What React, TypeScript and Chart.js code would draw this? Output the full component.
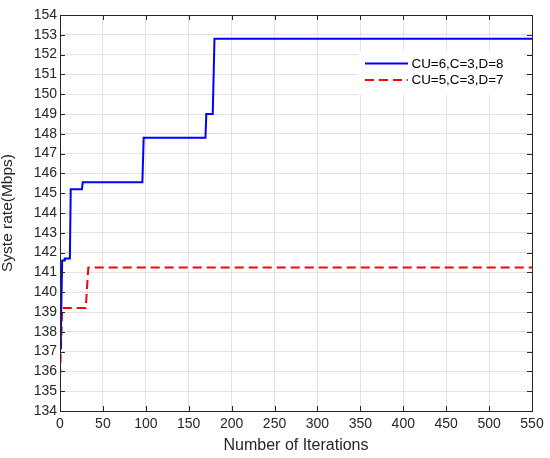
import React, { useEffect, useRef } from "react";
import { Chart, registerables } from "chart.js";

Chart.register(...registerables);

// Series 1: CU=6,C=3,D=8 (blue, solid)
const blueIter = [0, 1, 2.5, 5, 5.5, 11.5, 12.5, 25.5, 26.5, 96, 97.5, 169.5, 170.5, 178, 180, 550];
const blueRate = [137.2, 138.0, 141.6, 141.6, 141.7, 141.7, 145.2, 145.2, 145.55, 145.55, 147.8, 147.8, 149.0, 149.0, 152.8, 152.8];

// Series 2: CU=5,C=3,D=7 (red, dashed)
const redIter = [0, 2.5, 30, 33, 550];
const redRate = [135.7, 139.2, 139.2, 141.25, 141.25];

const seriesLabels = ["CU=6,C=3,D=8", "CU=5,C=3,D=7"];
const xTitle = "Number of Iterations";
const yTitle = "Syste rate(Mbps)";
const xMin = 0, xMax = 550, xStep = 50;
const yMin = 134, yMax = 154, yStep = 1;

const AXIS = "#262626";
const FONT = "'Liberation Sans', Arial, Helvetica, sans-serif";

const framePlugin = {
  id: "frameTicks",
  afterDatasetsDraw(chart: any) {
    const { ctx, chartArea: a, scales } = chart;
    const L = 5;
    ctx.save();
    ctx.strokeStyle = AXIS;
    ctx.lineWidth = 1;
    ctx.beginPath();
    for (const t of scales.x.ticks) {
      const px = Math.round(scales.x.getPixelForValue(t.value)) + 0.5;
      ctx.moveTo(px, a.bottom);
      ctx.lineTo(px, a.bottom - L);
      ctx.moveTo(px, a.top);
      ctx.lineTo(px, a.top + L);
    }
    for (const t of scales.y.ticks) {
      const py = Math.round(scales.y.getPixelForValue(t.value)) + 0.5;
      ctx.moveTo(a.left, py);
      ctx.lineTo(a.left + L, py);
      ctx.moveTo(a.right, py);
      ctx.lineTo(a.right - L, py);
    }
    ctx.stroke();
    ctx.strokeRect(Math.round(a.left) + 0.5, Math.round(a.top) + 0.5, Math.round(a.right - a.left), Math.round(a.bottom - a.top));

    // legend
    const bx = 358, by = 51, bw = 166, bh = 44;
    ctx.fillStyle = "#ffffff";
    ctx.fillRect(bx, by, bw, bh);
    const rows = [63.5, 80];
    chart.data.datasets.forEach((ds: any, i: number) => {
      const y = rows[i];
      ctx.strokeStyle = ds.borderColor;
      ctx.lineWidth = ds.borderWidth;
      ctx.setLineDash(ds.borderDash || []);
      ctx.beginPath();
      ctx.moveTo(365, y);
      ctx.lineTo(408, y);
      ctx.stroke();
      ctx.setLineDash([]);
      ctx.fillStyle = "#000000";
      ctx.font = `13.4px ${FONT}`;
      ctx.textBaseline = "middle";
      ctx.textAlign = "left";
      ctx.fillText(ds.label, 411.5, y + 0.5);
    });
    ctx.restore();
  },
};

export default function App() {
  const ref = useRef<HTMLCanvasElement>(null);
  useEffect(() => {
    document.body.style.margin = "0";
    const ctx = ref.current!;
    const chart = new Chart(ctx, {
      type: "line",
      data: {
        datasets: [
          {
            label: seriesLabels[0],
            data: blueIter.map((x, i) => ({ x, y: blueRate[i] })),
            borderColor: "#0000ff",
            backgroundColor: "#0000ff",
            borderWidth: 2,
            pointRadius: 0,
            tension: 0,
          },
          {
            label: seriesLabels[1],
            data: redIter.map((x, i) => ({ x, y: redRate[i] })),
            borderColor: "#ff0000",
            backgroundColor: "#ff0000",
            borderWidth: 2,
            borderDash: [9, 5],
            pointRadius: 0,
            tension: 0,
          },
        ],
      },
      options: {
        animation: false,
        responsive: false,
        maintainAspectRatio: false,
        layout: { padding: { top: 15, right: 18, left: 0, bottom: 0 } },
        plugins: { legend: { display: false }, tooltip: { enabled: false } },
        scales: {
          x: {
            type: "linear",
            min: xMin,
            max: xMax,
            afterFit: (s: any) => { s.height = 47; },
            ticks: { stepSize: xStep, color: AXIS, font: { size: 14, family: FONT }, padding: 5, maxRotation: 0, autoSkip: false },
            grid: { color: "#e3e3e3", drawTicks: false, lineWidth: 1 },
            border: { display: false },
            title: { display: true, text: xTitle, color: AXIS, font: { size: 16, family: FONT, lineHeight: 1 }, padding: { top: 0, bottom: 4 } },
          },
          y: {
            type: "linear",
            min: yMin,
            max: yMax,
            afterFit: (s: any) => { s.width = 60; },
            ticks: { stepSize: yStep, color: AXIS, font: { size: 14, family: FONT }, padding: 3, autoSkip: false },
            grid: { color: "#e3e3e3", drawTicks: false, lineWidth: 1 },
            border: { display: false },
            title: { display: true, text: yTitle, color: AXIS, font: { size: 15.5, family: FONT, lineHeight: 1 }, padding: { top: 0, bottom: 0 } },
          },
        },
      },
      plugins: [framePlugin],
    });
    return () => chart.destroy();
  }, []);
  return <canvas ref={ref} width={550} height={458} style={{ display: "block" }} />;
}
